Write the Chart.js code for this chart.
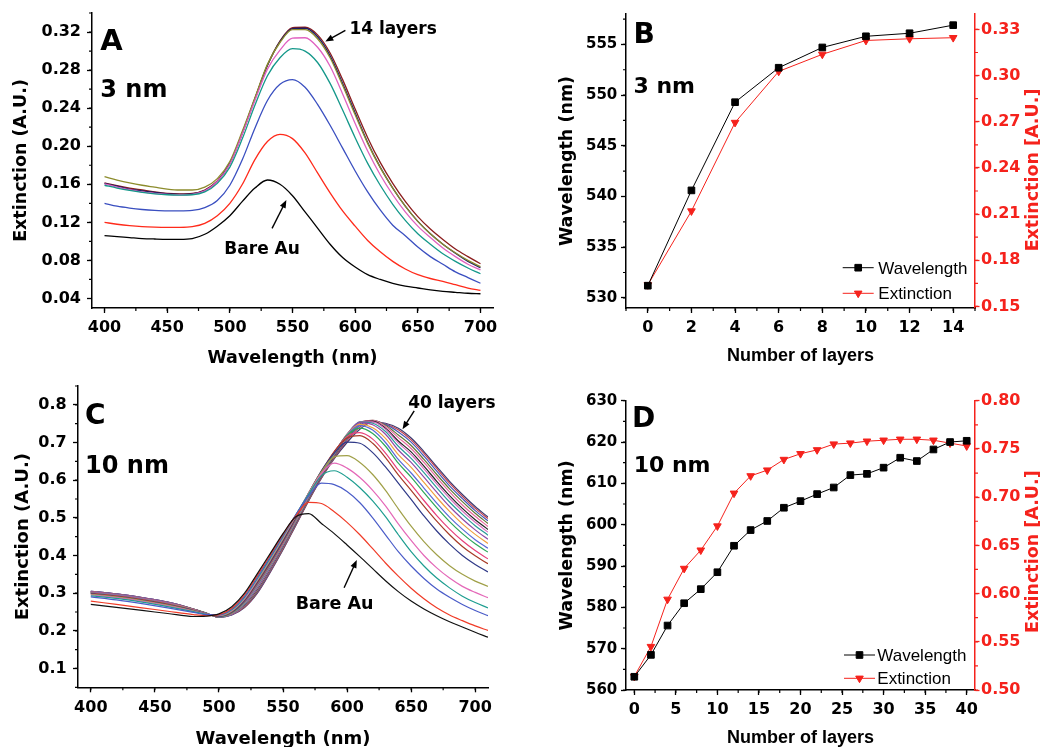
<!DOCTYPE html>
<html><head><meta charset="utf-8">
<script src="https://cdn.jsdelivr.net/npm/chart.js@4.4.0/dist/chart.umd.min.js"></script>
<style>
html,body{margin:0;padding:0;background:#fff;}
body{width:1044px;height:747px;position:relative;overflow:hidden;}
canvas{position:absolute;}
</style></head><body>
<canvas id="cA" width="520" height="372" style="left:0;top:0"></canvas>
<canvas id="cB" width="524" height="372" style="left:520px;top:0"></canvas>
<canvas id="cC" width="520" height="375" style="left:0;top:372px"></canvas>
<canvas id="cD" width="524" height="375" style="left:520px;top:372px"></canvas>
<script>
// ---------- Panel A: 3 nm spectra ----------
const wlA = [400,410,420,430,440,450,460,470,480,490,500,510,520,530,540,550,560,570,580,590,600,610,620,630,640,650,660,670,680,690,700];
const aBare = [.106,.105,.104,.103,.1025,.1022,.1022,.103,.1075,.116,.127,.142,.156,.1645,.160,.148,.131,.114,.097,.083,.073,.065,.060,.056,.053,.051,.049,.0475,.0465,.0455,.045];
const a02 = [.120,.118,.1165,.1155,.115,.1148,.1148,.1155,.119,.127,.140,.160,.186,.205,.2125,.208,.193,.172,.151,.132,.116,.101,.089,.079,.071,.065,.061,.058,.0545,.051,.0485];
const a04 = [.140,.137,.135,.1335,.1325,.132,.132,.1325,.1355,.143,.159,.186,.219,.248,.265,.270,.262,.244,.222,.198,.174,.152,.133,.117,.106,.094,.084,.076,.068,.062,.056];
const a06 = [.159,.156,.1535,.1515,.150,.149,.1487,.149,.152,.161,.178,.208,.243,.274,.293,.3025,.300,.288,.266,.238,.209,.182,.159,.139,.122,.108,.097,.087,.079,.072,.066];
const a08 = [.1605,.157,.1545,.152,.1505,.1495,.149,.1495,.153,.163,.181,.213,.248,.281,.301,.3135,.314,.304,.284,.255,.224,.195,.170,.149,.131,.116,.104,.093,.084,.076,.070];
const a10 = [.168,.1645,.1615,.159,.157,.155,.154,.154,.157,.166,.184,.216,.251,.286,.309,.3225,.3225,.313,.293,.264,.233,.203,.1775,.156,.137,.121,.108,.097,.088,.080,.0735];
const a12 = [.161,.158,.155,.153,.1515,.150,.1495,.150,.1535,.163,.182,.214,.250,.285,.310,.3235,.324,.315,.295,.266,.235,.204,.178,.156,.137,.121,.108,.097,.0875,.079,.0725];
const a14 = [.1615,.1585,.156,.154,.152,.1505,.150,.1505,.154,.1635,.182,.214,.250,.285,.3105,.3245,.325,.317,.298,.270,.239,.209,.183,.161,.142,.126,.113,.102,.092,.084,.0765];
const aLabels = ['Bare Au','2 layers','4 layers','6 layers','8 layers','10 layers','12 layers','14 layers'];
const aXTicks = [400,450,500,550,600,650,700];
const aYTicks = [0.04,0.08,0.12,0.16,0.20,0.24,0.28,0.32];

// ---------- Panel B: 3 nm peak data ----------
const layersB = [0,2,4,6,8,10,12,14];
const wlB = [531.2,540.6,549.3,552.7,554.7,555.8,556.1,556.9];
const extB = [0.164,0.212,0.2695,0.3027,0.3138,0.3228,0.3239,0.3246];
const bXTicks = [0,2,4,6,8,10,12,14];
const bYTicks = [530,535,540,545,550,555];
const bY2Ticks = [0.15,0.18,0.21,0.24,0.27,0.30,0.33];

// ---------- Panel C: 10 nm spectra ----------
const wlC = [400,420,440,460,480,490,500,510,520,530,540,550,560,570,580,590,600,610,620,630,640,650,660,670,680,690,700,710];
const cBare = [.270,.262,.254,.246,.238,.239,.245,.264,.300,.352,.405,.458,.503,.511,.485,.458,.428,.397,.365,.333,.304,.279,.258,.240,.224,.210,.196,.183];
const c02 = [.279,.270,.261,.252,.243,.240,.243,.260,.296,.347,.401,.456,.505,.541,.538,.516,.488,.455,.418,.380,.345,.313,.285,.261,.242,.227,.213,.201];
const c04 = [.290,.282,.272,.261,.249,.243,.243,.258,.292,.343,.397,.453,.508,.558,.592,.588,.570,.540,.500,.455,.410,.372,.339,.311,.289,.270,.254,.240];
const c06 = [.293,.286,.276,.264,.251,.244,.242,.256,.289,.339,.393,.450,.508,.563,.612,.625,.608,.580,.545,.503,.455,.410,.372,.340,.314,.292,.275,.261];
const c08 = [.295,.288,.278,.266,.252,.244,.241,.254,.286,.336,.390,.447,.506,.565,.618,.645,.632,.607,.573,.532,.484,.440,.400,.367,.340,.318,.302,.288];
const c10 = [.297,.290,.280,.268,.253,.244,.240,.252,.284,.333,.387,.444,.504,.566,.622,.662,.665,.647,.615,.573,.524,.478,.437,.402,.373,.350,.332,.318];
const c12 = [.298,.291,.281,.269,.254,.244,.239,.250,.281,.330,.383,.440,.501,.566,.625,.672,.701,.698,.673,.635,.592,.549,.505,.465,.430,.400,.376,.356];
const c14 = [.299,.292,.282,.270,.254,.244,.239,.249,.280,.328,.381,.438,.500,.565,.624,.676,.712,.718,.698,.660,.614,.573,.531,.491,.455,.424,.399,.378];
const c16 = [.300,.293,.283,.271,.255,.245,.239,.249,.278,.326,.379,.436,.498,.563,.622,.675,.716,.726,.709,.672,.627,.588,.546,.506,.470,.439,.413,.391];
const c18 = [.300,.293,.283,.271,.255,.245,.238,.248,.277,.324,.377,.435,.497,.562,.621,.674,.719,.738,.724,.690,.645,.608,.567,.527,.490,.458,.431,.409];
const c20 = [.301,.294,.284,.272,.255,.245,.238,.248,.275,.321,.375,.433,.495,.560,.619,.673,.721,.745,.733,.700,.655,.619,.579,.539,.502,.470,.442,.419];
const c22 = [.301,.294,.284,.272,.256,.245,.238,.247,.274,.319,.373,.431,.493,.558,.618,.671,.722,.748,.739,.711,.668,.634,.594,.554,.517,.484,.456,.432];
const c24 = [.302,.295,.285,.273,.256,.246,.238,.247,.273,.317,.371,.429,.492,.557,.616,.670,.722,.753,.747,.722,.680,.647,.608,.568,.530,.497,.468,.443];
const c26 = [.302,.295,.285,.273,.256,.246,.237,.246,.271,.315,.369,.427,.490,.555,.615,.668,.721,.754,.751,.729,.690,.658,.620,.580,.542,.509,.479,.454];
const c28 = [.303,.296,.286,.274,.257,.246,.237,.245,.270,.313,.367,.426,.489,.554,.614,.667,.720,.755,.755,.735,.699,.668,.630,.590,.552,.518,.488,.462];
const c30 = [.303,.296,.286,.274,.257,.246,.237,.245,.269,.311,.365,.424,.487,.552,.612,.665,.718,.755,.757,.738,.704,.675,.637,.597,.559,.525,.495,.469];
const c32 = [.304,.297,.287,.275,.257,.246,.237,.244,.267,.309,.363,.422,.486,.551,.611,.664,.715,.753,.759,.743,.713,.684,.647,.607,.569,.534,.504,.477];
const c34 = [.304,.297,.287,.275,.258,.247,.236,.244,.266,.306,.361,.420,.484,.549,.609,.662,.712,.750,.759,.746,.720,.692,.655,.615,.577,.543,.512,.485];
const c36 = [.305,.298,.288,.276,.258,.247,.236,.243,.265,.304,.359,.419,.483,.548,.608,.661,.709,.746,.758,.748,.728,.701,.664,.624,.585,.551,.519,.492];
const c38 = [.305,.298,.288,.276,.258,.247,.236,.243,.263,.302,.357,.417,.481,.546,.606,.659,.705,.741,.756,.749,.734,.707,.671,.631,.592,.557,.525,.498];
const c40 = [.305,.298,.288,.276,.258,.247,.236,.242,.262,.300,.355,.415,.480,.545,.605,.657,.700,.735,.755,.751,.738,.712,.676,.636,.597,.562,.530,.502];
const cXTicks = [400,450,500,550,600,650,700];
const cYTicks = [0.1,0.2,0.3,0.4,0.5,0.6,0.7,0.8];

// ---------- Panel D: 10 nm peak data ----------
const layersD = [0,2,4,6,8,10,12,14,16,18,20,22,24,26,28,30,32,34,36,38,40];
const wlD = [563.2,568.5,575.6,581.0,584.4,588.5,594.9,598.7,600.9,604.1,605.7,607.4,609.0,612.0,612.3,613.8,616.2,615.4,618.2,620.0,620.3];
const extD = [0.514,0.545,0.594,0.626,0.645,0.670,0.704,0.722,0.728,0.739,0.745,0.749,0.755,0.756,0.758,0.759,0.760,0.760,0.759,0.756,0.753];
const dXTicks = [0,5,10,15,20,25,30,35,40];
const dYTicks = [560,570,580,590,600,610,620,630];
const dY2Ticks = [0.50,0.55,0.60,0.65,0.70,0.75,0.80];

// ---------- styling ----------
const DF = '"DejaVu Sans", sans-serif';
const LF = '"Liberation Sans", Arial, sans-serif';
const RED = '#f5221c';
const aColors = ['#000000','#ff2a1a','#3a4fc0','#14988a','#e060c0','#8c8c2c','#1c1c66','#8b1c1c'];
const cColors = ['#111111','#f03c28','#4a5cc8','#1e9e90','#e468b8','#a0a048','#303a88','#a83c28','#e8407a','#2ea858',
                 '#5a6ad8','#f0a040','#9048a8','#2a9a9a','#d870c0','#222222','#e86aa0','#607838','#4858b8','#c04050','#3a3a70'];

function axis(o) {
  return {
    type: 'linear', position: o.pos, min: o.min, max: o.max,
    afterBuildTicks: s => { s.ticks = o.ticks.map(v => ({value: v})); },
    afterFit: s => {
      if (o.width != null) s.width = o.width;
      if (o.height != null) s.height = o.height;
      s.paddingLeft = 0; s.paddingRight = 0; s.paddingTop = 0; s.paddingBottom = 0;
    },
    ticks: { color: o.color, font: {family: DF, size: o.tickSize || 16, weight: 'bold'},
             padding: o.pad, autoSkip: false, maxRotation: 0, minRotation: 0,
             callback: v => o.fmt ? o.fmt(v) : String(v) },
    grid: { display: true, drawOnChartArea: false, drawTicks: true, tickLength: o.tl || 5, tickWidth: 1.3, tickColor: o.color },
    border: { display: true, color: o.color, width: 1.5 },
    title: o.title ? { display: true, text: o.title, color: o.color,
                       font: {family: o.titleFamily || DF, size: o.titleSize || 17.5, weight: 'bold'}, padding: o.titlePad }
                   : { display: false }
  };
}

function arrow(ctx, x1, y1, x2, y2) {
  const ang = Math.atan2(y2 - y1, x2 - x1), L = 8, W = 3.2;
  ctx.beginPath(); ctx.moveTo(x1, y1);
  ctx.lineTo(x2 - Math.cos(ang) * L * 0.8, y2 - Math.sin(ang) * L * 0.8); ctx.stroke();
  ctx.beginPath(); ctx.moveTo(x2, y2);
  ctx.lineTo(x2 - Math.cos(ang) * L - Math.sin(ang) * W, y2 - Math.sin(ang) * L + Math.cos(ang) * W);
  ctx.lineTo(x2 - Math.cos(ang) * L + Math.sin(ang) * W, y2 - Math.sin(ang) * L - Math.cos(ang) * W);
  ctx.closePath(); ctx.fill();
}

function deco(cfg) {
  return {
    id: 'deco',
    afterDraw(chart) {
      const ctx = chart.ctx, ca = chart.chartArea, xs = chart.scales.x, ys = chart.scales.y;
      ctx.save();
      // minor ticks
      (cfg.minor || []).forEach(m => {
        const s = chart.scales[m.axis];
        ctx.strokeStyle = m.color || '#000'; ctx.lineWidth = 1.2;
        const k0 = Math.ceil(s.min / m.step - 1e-6), k1 = Math.floor(s.max / m.step + 1e-6);
        ctx.beginPath();
        for (let k = k0; k <= k1; k++) {
          const p = s.getPixelForValue(k * m.step);
          if (m.axis === 'x') { ctx.moveTo(p, ca.bottom); ctx.lineTo(p, ca.bottom + 3); }
          else if (s.position === 'left') { ctx.moveTo(ca.left - 3, p); ctx.lineTo(ca.left, p); }
          else { ctx.moveTo(ca.right, p); ctx.lineTo(ca.right + 3, p); }
        }
        ctx.stroke();
      });
      // texts
      ctx.fillStyle = '#000'; ctx.textBaseline = 'alphabetic'; ctx.textAlign = 'left';
      (cfg.texts || []).forEach(t => {
        ctx.font = t.font; ctx.fillStyle = t.color || '#000';
        ctx.fillText(t.text, xs.getPixelForValue(t.x), ys.getPixelForValue(t.y));
      });
      // arrows
      ctx.strokeStyle = '#000'; ctx.fillStyle = '#000'; ctx.lineWidth = 1.4;
      (cfg.arrows || []).forEach(a => {
        arrow(ctx, xs.getPixelForValue(a.x1), ys.getPixelForValue(a.y1), xs.getPixelForValue(a.x2), ys.getPixelForValue(a.y2));
      });
      // right axis title (reads bottom to top)
      if (cfg.rightTitle) {
        const r = cfg.rightTitle;
        ctx.save();
        ctx.translate(ca.right + r.dx, r.cy);
        ctx.rotate(-Math.PI / 2);
        ctx.font = 'bold 17.5px ' + DF; ctx.fillStyle = RED; ctx.textAlign = 'center'; ctx.textBaseline = 'middle';
        ctx.fillText(r.text, 0, 0);
        ctx.restore();
      }
      // legend
      if (cfg.legend) {
        const lg = cfg.legend, sx = ca.right + lg.dx;
        chart.data.datasets.forEach((ds, i) => {
          const y = ca.bottom + lg.rows[i];
          ctx.strokeStyle = ds.borderColor; ctx.lineWidth = 1;
          ctx.beginPath(); ctx.moveTo(sx, y); ctx.lineTo(sx + 31, y); ctx.stroke();
          ctx.fillStyle = ds.pointBackgroundColor; ctx.strokeStyle = ds.pointBorderColor;
          Chart.helpers.drawPoint(ctx, {pointStyle: ds.pointStyle, rotation: ds.pointRotation || 0, radius: ds.pointRadius, borderWidth: 1}, sx + 15.5, y);
          ctx.fillStyle = '#000'; ctx.font = '17px ' + LF; ctx.textAlign = 'left'; ctx.textBaseline = 'alphabetic';
          ctx.fillText(ds.label, sx + lg.tx, y + 6);
        });
      }
      ctx.restore();
    }
  };
}

const common = { responsive: false, animation: false, devicePixelRatio: 1,
  plugins: { legend: { display: false }, tooltip: { enabled: false } } };

// ---------- Chart A ----------
const aSeries = [aBare, a02, a04, a06, a08, a10, a12, a14];
new Chart(document.getElementById('cA'), {
  type: 'line',
  data: { datasets: aSeries.map((arr, i) => ({
    label: aLabels[i], data: wlA.map((x, j) => ({x: x, y: arr[j]})),
    borderColor: aColors[i], borderWidth: 1.3, pointRadius: 0, cubicInterpolationMode: 'monotone', fill: false })) },
  options: Object.assign({}, common, {
    layout: { padding: {left: 0, top: 13, right: 27, bottom: 0} },
    scales: {
      x: axis({pos: 'bottom', min: 390, max: 710, ticks: aXTicks, color: '#000', pad: 5, height: 64,
               title: 'Wavelength (nm)', titlePad: {top: 0, bottom: 3.5}}),
      y: axis({pos: 'left', min: 0.03, max: 0.34, ticks: aYTicks, color: '#000', pad: 6, width: 92,
               fmt: v => v.toFixed(2), title: 'Extinction (A.U.)', titlePad: {top: 11.2, bottom: 0}})
    }
  }),
  plugins: [deco({
    minor: [{axis: 'x', step: 25}, {axis: 'y', step: 0.02}],
    texts: [
      {text: 'A', x: 396.6, y: 0.3014, font: 'bold 29px ' + DF},
      {text: '3 nm', x: 396.6, y: 0.2522, font: 'bold 24px ' + DF},
      {text: '14 layers', x: 595.4, y: 0.318, font: 'bold 17px ' + DF},
      {text: 'Bare Au', x: 495.6, y: 0.0866, font: 'bold 17px ' + DF}
    ],
    arrows: [
      {x1: 592.2, y1: 0.3217, x2: 576.2, y2: 0.310},
      {x1: 533.7, y1: 0.1137, x2: 545.1, y2: 0.1435}
    ]
  })]
});

// ---------- Chart B ----------
new Chart(document.getElementById('cB'), {
  type: 'line',
  data: { datasets: [
    { label: 'Wavelength', data: layersB.map((x, j) => ({x: x, y: wlB[j]})), yAxisID: 'y',
      borderColor: '#000', borderWidth: 1, pointStyle: 'rect', pointRadius: 4.7,
      pointBackgroundColor: '#000', pointBorderColor: '#000', tension: 0 },
    { label: 'Extinction', data: layersB.map((x, j) => ({x: x, y: extB[j]})), yAxisID: 'y2',
      borderColor: RED, borderWidth: 1, pointStyle: 'triangle', pointRotation: 180, pointRadius: 4.4,
      pointBackgroundColor: RED, pointBorderColor: RED, tension: 0 }
  ] },
  options: Object.assign({}, common, {
    layout: { padding: {left: 0, top: 14, right: 0, bottom: 0} },
    scales: {
      x: axis({pos: 'bottom', min: -1, max: 15, ticks: bXTicks, color: '#000', pad: 5.4, height: 64,
               title: 'Number of layers', titleFamily: LF, titleSize: 18, titlePad: {top: 0, bottom: 5.6}}),
      y: axis({pos: 'left', min: 529, max: 558, ticks: bYTicks, color: '#000', pad: 3.7, width: 106, tickSize: 15,
               title: 'Wavelength (nm)', titlePad: {top: 37, bottom: 0}}),
      y2: axis({pos: 'right', min: 0.149, max: 0.34, ticks: bY2Ticks, color: RED, pad: 1.5, tl: 4.5, width: 69,
                fmt: v => v.toFixed(2)})
    }
  }),
  plugins: [deco({
    minor: [{axis: 'x', step: 1}, {axis: 'y', step: 2.5}, {axis: 'y2', step: 0.015, color: RED}],
    texts: [
      {text: 'B', x: -0.66, y: 555.1, font: 'bold 28px ' + DF},
      {text: '3 nm', x: -0.66, y: 550.2, font: 'bold 22px ' + DF}
    ],
    rightTitle: {text: 'Extinction [A.U.]', dx: 58.3, cy: 170},
    legend: {dx: -132.3, rows: [-40.3, -14.7], tx: 35.6}
  })]
});

// ---------- Chart C ----------
const cSeries = [cBare, c02, c04, c06, c08, c10, c12, c14, c16, c18, c20, c22, c24, c26, c28, c30, c32, c34, c36, c38, c40];
new Chart(document.getElementById('cC'), {
  type: 'line',
  data: { datasets: cSeries.map((arr, i) => ({
    label: i === 0 ? 'Bare Au' : (2 * i) + ' layers', data: wlC.map((x, j) => ({x: x, y: arr[j]})),
    borderColor: cColors[i], borderWidth: 1.2, pointRadius: 0, cubicInterpolationMode: 'monotone', fill: false })) },
  options: Object.assign({}, common, {
    layout: { padding: {left: 0, top: 14, right: 32, bottom: 0} },
    scales: {
      x: axis({pos: 'bottom', min: 390, max: 710, ticks: cXTicks, color: '#000', pad: 6.4, height: 59.7,
               title: 'Wavelength (nm)', titleSize: 18, titlePad: {top: 0, bottom: -3}}),
      y: axis({pos: 'left', min: 0.05, max: 0.85, ticks: cYTicks, color: '#000', pad: 6.3, width: 78,
               fmt: v => v.toFixed(1), title: 'Extinction (A.U.)', titleSize: 18, titlePad: {top: 12.5, bottom: 0}})
    }
  }),
  plugins: [deco({
    minor: [{axis: 'x', step: 25}, {axis: 'y', step: 0.05}],
    texts: [
      {text: 'C', x: 395.5, y: 0.7486, font: 'bold 28px ' + DF},
      {text: '10 nm', x: 395.5, y: 0.618, font: 'bold 24px ' + DF},
      {text: '40 layers', x: 647.7, y: 0.7927, font: 'bold 17px ' + DF},
      {text: 'Bare Au', x: 559.9, y: 0.2587, font: 'bold 17.5px ' + DF}
    ],
    arrows: [
      {x1: 652.4, y1: 0.784, x2: 643.3, y2: 0.735},
      {x1: 597.7, y1: 0.3145, x2: 607.6, y2: 0.388}
    ]
  })]
});

// ---------- Chart D ----------
new Chart(document.getElementById('cD'), {
  type: 'line',
  data: { datasets: [
    { label: 'Wavelength', data: layersD.map((x, j) => ({x: x, y: wlD[j]})), yAxisID: 'y',
      borderColor: '#000', borderWidth: 1, pointStyle: 'rect', pointRadius: 4.7,
      pointBackgroundColor: '#000', pointBorderColor: '#000', tension: 0 },
    { label: 'Extinction', data: layersD.map((x, j) => ({x: x, y: extD[j]})), yAxisID: 'y2',
      borderColor: RED, borderWidth: 1, pointStyle: 'triangle', pointRotation: 180, pointRadius: 4.4,
      pointBackgroundColor: RED, pointBorderColor: RED, tension: 0 }
  ] },
  options: Object.assign({}, common, {
    layout: { padding: {left: 0, top: 28.7, right: 0, bottom: 0} },
    scales: {
      x: axis({pos: 'bottom', min: -1, max: 41, ticks: dXTicks, color: '#000', pad: 5.4, height: 57,
               title: 'Number of layers', titleFamily: LF, titleSize: 18, titlePad: {top: 0, bottom: -1.4}}),
      y: axis({pos: 'left', min: 560, max: 630, ticks: dYTicks, color: '#000', pad: 3.7, width: 106, tickSize: 15,
               title: 'Wavelength (nm)', titlePad: {top: 37, bottom: 0}}),
      y2: axis({pos: 'right', min: 0.5, max: 0.8, ticks: dY2Ticks, color: RED, pad: 1.5, tl: 4.5, width: 69,
                fmt: v => v.toFixed(2)})
    }
  }),
  plugins: [deco({
    minor: [{axis: 'x', step: 2.5}, {axis: 'y', step: 5}, {axis: 'y2', step: 0.025, color: RED}],
    texts: [
      {text: 'D', x: -0.28, y: 623.7, font: 'bold 28px ' + DF},
      {text: '10 nm', x: -0.08, y: 612.8, font: 'bold 22px ' + DF}
    ],
    rightTitle: {text: 'Extinction [A.U.]', dx: 58.3, cy: 179.7},
    legend: {dx: -131, rows: [-35, -11.7], tx: 33.3}
  })]
});
</script>
</body></html>
